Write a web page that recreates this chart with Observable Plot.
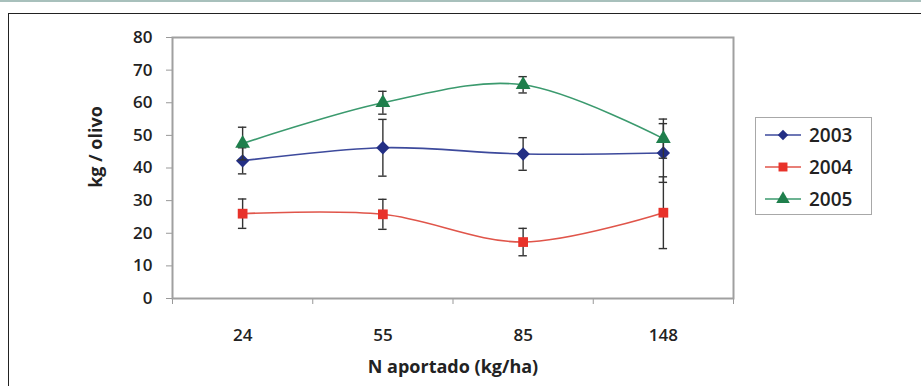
<!DOCTYPE html>
<html>
<head>
<meta charset="utf-8">
<script src="https://cdn.jsdelivr.net/npm/d3@7"></script>
<script src="https://cdn.jsdelivr.net/npm/@observablehq/plot@0.6"></script>
<style>
  html, body { margin: 0; padding: 0; background: #fff; }
  #wrap { position: relative; width: 921px; height: 386px; overflow: hidden; font-family: "Open Sans", sans-serif; }
  #stripe { position: absolute; left: 0; top: 0; width: 921px; height: 2px; background: #a8c0bc; }
  #box { position: absolute; left: 8px; top: 13px; width: 960px; height: 420px; border-left: 1.5px solid #222; border-top: 1.5px solid #222; }
  #chart { position: absolute; left: 0; top: 0; }
  #ylab { position: absolute; left: 95px; top: 147px; transform: translate(-50%, -50%) rotate(-90deg); font-weight: 700; font-size: 18px; color: #222; white-space: nowrap; }
  #legend { position: absolute; left: 755px; top: 117px; width: 117px; height: 98px; border: 1.5px solid #a8a8a8; box-sizing: border-box; background: #fff; }
  .li { position: absolute; left: 7px; height: 24px; display: flex; align-items: center; }
  .li span { font-size: 19px; font-weight: 600; color: #222; margin-left: 6px; }
</style>
</head>
<body>
<div id="wrap">
  <div id="stripe"></div>
  <div id="box"></div>
  <div id="chart"></div>
  <div id="ylab">kg / olivo</div>
  <div id="legend"></div>
</div>
<script>
const categories = ["24", "55", "85", "148"];
const years = ["2003", "2004", "2005"];
const values2003 = [42.2, 46.2, 44.3, 44.6];
const errors2003 = [4.0, 8.7, 5.0, 9.0];
const values2004 = [26.0, 25.8, 17.3, 26.3];
const errors2004 = [4.5, 4.6, 4.2, 11.0];
const values2005 = [47.5, 60.0, 65.5, 49.0];
const errors2005 = [5.0, 3.5, 2.5, 6.0];
const yTicks = [0, 10, 20, 30, 40, 50, 60, 70, 80];
const xTitle = "N aportado (kg/ha)";

const lineColors = {"2003": "#3d4a9c", "2004": "#e0554a", "2005": "#3b9a6e"};
const markColors = {"2003": "#232f85", "2004": "#e8322a", "2005": "#1f7f4c"};
const symbols = {"2003": "diamond2", "2004": "square", "2005": "triangle"};

const seriesVals = {"2003": values2003, "2004": values2004, "2005": values2005};
const seriesErr = {"2003": errors2003, "2004": errors2004, "2005": errors2005};
const data = [];
for (const yr of years) {
  categories.forEach((c, i) => data.push({year: yr, cat: c, i, v: seriesVals[yr][i], e: seriesErr[yr][i]}));
}
const idx = categories.map((c, i) => i);
const bounds = d3.range(categories.length + 1).map(i => i - 0.5);
const cap = 0.03;

const marks = [
  Plot.axisY({ticks: yTicks, tickSize: 6, tickPadding: 14, label: null, fontSize: 17, fontWeight: 600, fill: "#222", stroke: "#999"}),
  Plot.axisX({ticks: bounds, tickSize: 6, tickFormat: () => "", label: null, stroke: "#999"}),
  Plot.axisX({ticks: idx, tickSize: 0, tickPadding: 30, tickFormat: i => categories[i], label: null, fontSize: 17, fontWeight: 600, fill: "#222"}),
  Plot.frame({stroke: "#a0a0a0", strokeWidth: 2})
];
for (const yr of years) {
  const d = data.filter(r => r.year === yr);
  marks.push(Plot.line(d, {x: "i", y: "v", stroke: lineColors[yr], strokeWidth: 1.6, curve: "cardinal"}));
}
for (const yr of years) {
  const d = data.filter(r => r.year === yr);
  marks.push(Plot.ruleX(d, {x: "i", y1: r => r.v - r.e, y2: r => r.v + r.e, stroke: "#333", strokeWidth: 1.4}));
  marks.push(Plot.ruleY(d, {y: r => r.v - r.e, x1: r => r.i - cap, x2: r => r.i + cap, stroke: "#333", strokeWidth: 1.4}));
  marks.push(Plot.ruleY(d, {y: r => r.v + r.e, x1: r => r.i - cap, x2: r => r.i + cap, stroke: "#333", strokeWidth: 1.4}));
  marks.push(Plot.dot(d, {x: "i", y: "v", symbol: symbols[yr], fill: markColors[yr], r: yr === "2003" ? 6 : 5.5, stroke: "none"}));
}
marks.push(Plot.text([xTitle], {frameAnchor: "bottom", dy: 74, fontSize: 18, fontWeight: 700, fill: "#222"}));

const chart = Plot.plot({
  width: 921,
  height: 386,
  marginLeft: 172,
  marginRight: 188,
  marginTop: 37,
  marginBottom: 88,
  style: {fontFamily: "Open Sans, sans-serif", background: "transparent", overflow: "visible"},
  x: {type: "linear", domain: [-0.5, categories.length - 0.5], axis: null},
  y: {domain: [0, 80], axis: null},
  marks
});
document.getElementById("chart").appendChild(chart);

// legend
const leg = document.getElementById("legend");
years.forEach((yr, k) => {
  const row = document.createElement("div");
  row.className = "li";
  row.style.top = (5 + k * 32) + "px";
  const sw = d3.create("svg").attr("width", 40).attr("height", 20);
  sw.append("line").attr("x1", 2).attr("x2", 38).attr("y1", 10).attr("y2", 10).attr("stroke", lineColors[yr]).attr("stroke-width", 1.6);
  const sym = {diamond2: d3.symbolDiamond2, square: d3.symbolSquare, triangle: d3.symbolTriangle}[symbols[yr]];
  sw.append("path").attr("transform", "translate(20,10)").attr("d", d3.symbol(sym, yr === "2003" ? 70 : 80)()).attr("fill", markColors[yr]);
  row.appendChild(sw.node());
  const t = document.createElement("span");
  t.textContent = yr;
  row.appendChild(t);
  leg.appendChild(row);
});
</script>
</body>
</html>
